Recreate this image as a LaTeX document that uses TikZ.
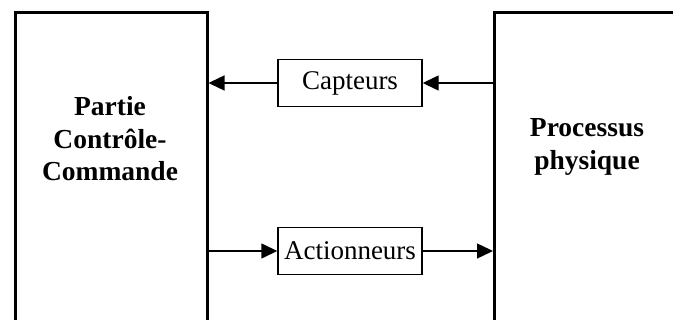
\documentclass[tikz,border=0pt]{standalone}
\usepackage{fontspec}
\setmainfont{Liberation Serif}
\usetikzlibrary{arrows.meta}
\begin{document}
\begin{tikzpicture}[x=1pt,y=-1pt,
  bigbox/.style={draw,line width=3pt,minimum width=191.5pt,minimum height=340pt,inner sep=0pt},
  bigtext/.style={font=\fontsize{27.5}{32.5}\selectfont\bfseries,align=center,inner sep=0pt},
  smallbox/.style={draw,line width=1.4pt,minimum width=144pt,minimum height=47pt,inner sep=0pt,font=\fontsize{27}{32}\selectfont},
  conn/.style={line width=1.4pt,-{Triangle[length=16pt,width=15pt]}}]
\useasboundingbox (0,0) rectangle (673,320);
\clip (0,0) rectangle (673,320);
\node[bigbox,anchor=north west] (left) at (14,11) {};
\node[bigbox,anchor=north west,minimum width=250pt] (right) at (493,11) {};
\node[bigtext] (ltext) at (110,139) {Partie\\Contrôle-\\Commande};
\node[bigtext] (rtext) at (587,147) {Processus\\physique};
\node[smallbox] (capt) at (350,83) {Capteurs};
\node[smallbox] (act) at (350,251) {Actionneurs};
\draw[conn] (right.west |- capt.east) -- (capt.east);
\draw[conn] (capt.west) -- (left.east |- capt.west);
\draw[conn] (left.east |- act.west) -- (act.west);
\draw[conn] (act.east) -- (right.west |- act.east);
\end{tikzpicture}
\end{document}
